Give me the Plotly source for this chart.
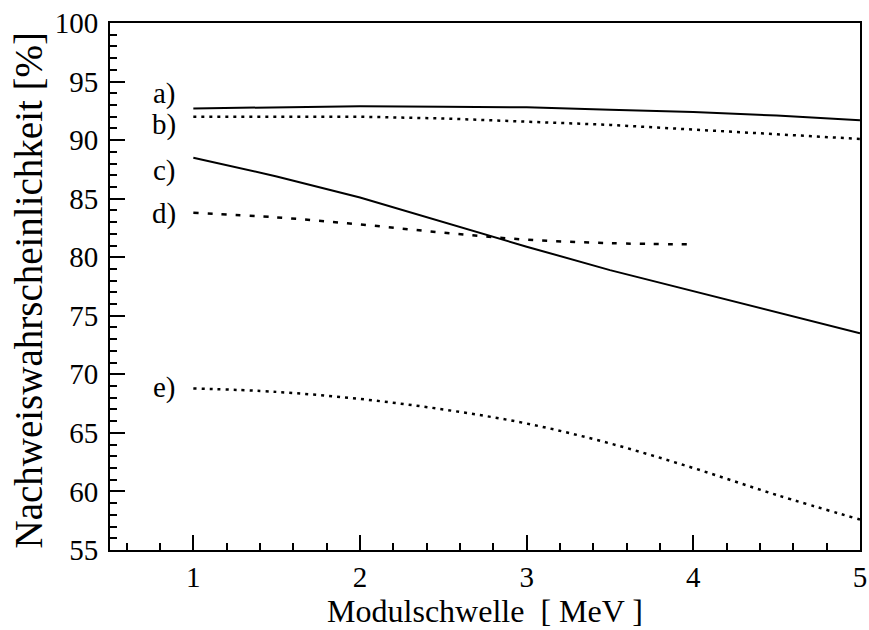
import plotly.graph_objects as go

# Detection probability vs. module threshold
x_full = [1.0, 1.5, 2.0, 2.5, 3.0, 3.5, 4.0, 4.5, 5.0]
curve_a = [92.7, 92.8, 92.9, 92.85, 92.8, 92.6, 92.4, 92.1, 91.7]
curve_b = [92.0, 92.0, 92.0, 91.85, 91.6, 91.3, 90.9, 90.5, 90.1]
curve_c = [88.5, 86.9, 85.1, 83.0, 80.9, 78.9, 77.1, 75.3, 73.5]
x_d = [1.0, 1.5, 2.0, 2.5, 3.0, 3.5, 4.0]
curve_d = [83.8, 83.4, 82.8, 82.1, 81.5, 81.2, 81.1]
curve_e = [68.8, 68.5, 67.9, 67.0, 65.8, 64.1, 62.0, 59.7, 57.6]

curve_labels = ["a)", "b)", "c)", "d)", "e)"]
label_y = [94.0, 91.3, 87.4, 83.7, 68.9]

FONT = "Liberation Serif, Times New Roman, serif"

fig = go.Figure()
series = [
    (x_full, curve_a, "solid", 2, "linear"),
    (x_full, curve_b, "3px,5px", 2.5, "linear"),
    (x_full, curve_c, "solid", 2, "linear"),
    (x_d, curve_d, "5px,9px", 2.5, "spline"),
    (x_full, curve_e, "3px,5px", 2.5, "spline"),
]
for xs, ys, dash, w, shape in series:
    fig.add_trace(go.Scatter(
        x=xs, y=ys, mode="lines",
        line=dict(color="black", width=w, dash=dash, shape=shape),
        showlegend=False, hoverinfo="skip",
    ))

for txt, yv in zip(curve_labels, label_y):
    fig.add_annotation(x=0.91, y=yv, text=txt, showarrow=False,
                       xanchor="right", yanchor="middle",
                       font=dict(family=FONT, size=29, color="black"))

# vertical axis title, placed as a rotated annotation left of the tick labels
fig.add_annotation(xref="paper", yref="paper", x=0, y=0.5, xshift=-82, yshift=-4,
                   text="Nachweiswahrscheinlichkeit [%]", textangle=-90,
                   showarrow=False, xanchor="center", yanchor="middle",
                   font=dict(family=FONT, size=39, color="black"))

fig.update_layout(
    width=869, height=630,
    margin=dict(l=110, r=9, t=23, b=80, autoexpand=False),
    paper_bgcolor="white", plot_bgcolor="white",
    font=dict(family=FONT, size=28, color="black"),
)
fig.update_xaxes(
    range=[0.5, 5.0001], tick0=1, dtick=1, automargin=False,
    showline=True, linecolor="black", linewidth=2, mirror=True,
    ticks="inside", ticklen=15, tickwidth=2, tickcolor="black",
    minor=dict(dtick=0.2, tick0=0.6, ticks="inside", ticklen=7, tickwidth=2, tickcolor="black"),
    showgrid=False, zeroline=False,
    tickfont=dict(family=FONT, size=29),
    ticklabeloverflow="allow",
    title=dict(text="Modulschwelle  [ MeV ]", font=dict(family=FONT, size=32), standoff=6),
)
fig.update_yaxes(
    range=[55, 100], tick0=55, dtick=5, automargin=False,
    showline=True, linecolor="black", linewidth=2, mirror=True,
    ticks="inside", ticklen=15, tickwidth=2, tickcolor="black",
    minor=dict(dtick=1, ticks="inside", ticklen=7, tickwidth=2, tickcolor="black"),
    showgrid=False, zeroline=False,
    tickfont=dict(family=FONT, size=29),
    ticklabelstandoff=4,
    ticklabeloverflow="allow",
)

fig.write_html("out.html")
